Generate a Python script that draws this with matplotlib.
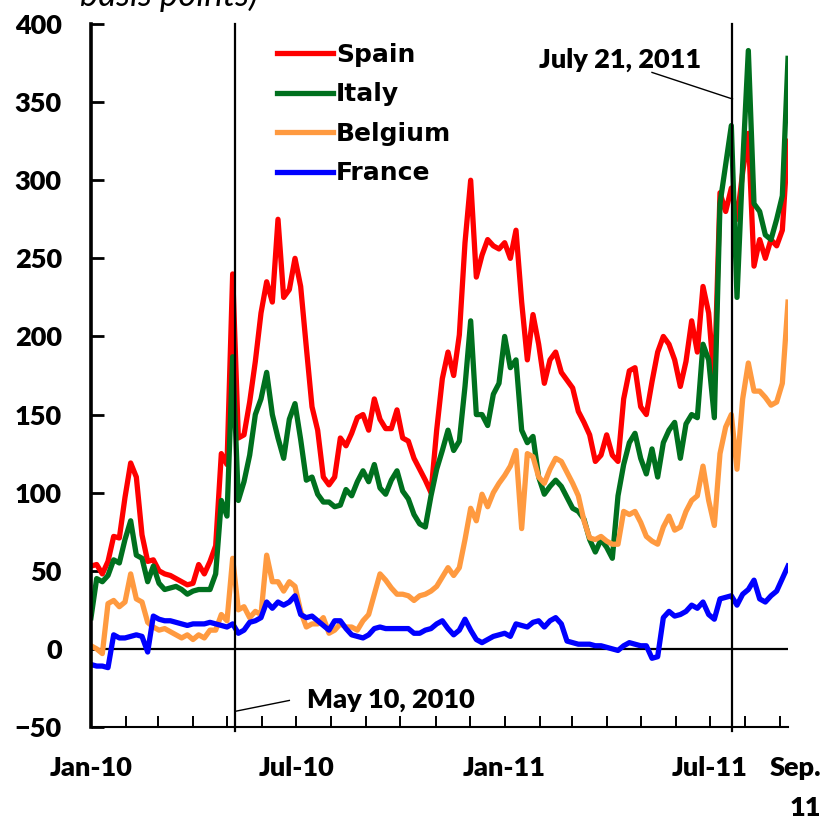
import pandas as pd
import matplotlib.pyplot as plt

# sample dates (every 5 days from Jan 1, 2010)
dates = pd.date_range('2010-01-01', periods=124, freq='5D')

spain = [53, 54, 48, 56, 72, 71, 97, 119, 110, 73,
         56, 57, 50, 48, 47, 45, 43, 41, 42, 54,
         48, 56, 66, 125, 118, 240, 135, 137, 158, 184,
         215, 235, 222, 275, 225, 230, 250, 232, 193, 155,
         140, 110, 105, 110, 135, 130, 138, 148, 150, 140,
         160, 147, 141, 141, 153, 135, 133, 122, 115, 108,
         100, 140, 173, 190, 175, 201, 260, 300, 238, 252,
         262, 258, 256, 260, 250, 268, 222, 185, 214, 195,
         170, 185, 190, 177, 172, 167, 152, 145, 137, 120,
         124, 137, 124, 120, 160, 178, 180, 155, 150, 171,
         190, 200, 195, 185, 168, 184, 210, 190, 232, 215,
         170, 292, 280, 295, 275, 305, 330, 245, 262, 250,
         262, 258, 268, 325]

italy = [20, 45, 43, 47, 57, 55, 70, 82, 60, 58,
         43, 53, 42, 38, 39, 40, 38, 35, 37, 38,
         38, 38, 48, 95, 85, 187, 95, 107, 124, 150,
         160, 177, 150, 135, 122, 147, 157, 134, 108, 110,
         99, 94, 94, 91, 92, 102, 98, 107, 114, 107,
         118, 103, 99, 108, 114, 101, 96, 86, 80, 78,
         98, 115, 127, 140, 127, 133, 168, 210, 150, 150,
         143, 163, 170, 200, 180, 185, 140, 132, 136, 110,
         99, 104, 108, 104, 97, 90, 88, 83, 70, 62,
         70, 65, 58, 98, 118, 132, 138, 122, 112, 128,
         110, 132, 140, 145, 122, 144, 150, 148, 195, 185,
         148, 285, 310, 335, 225, 310, 383, 285, 280, 265,
         262, 275, 290, 378]

belgium = [2, 0, -3, 29, 31, 27, 30, 48, 32, 30,
           17, 14, 12, 13, 11, 9, 7, 9, 6, 9,
           7, 12, 12, 22, 18, 58, 25, 27, 20, 24,
           22, 60, 43, 43, 37, 43, 40, 24, 14, 16,
           16, 20, 10, 12, 16, 14, 14, 12, 18, 22,
           35, 48, 44, 39, 35, 35, 34, 31, 34, 35,
           37, 40, 46, 52, 47, 52, 70, 90, 82, 99,
           91, 100, 106, 111, 117, 127, 77, 125, 123, 110,
           106, 115, 122, 120, 113, 106, 98, 82, 71, 70,
           72, 69, 67, 67, 88, 86, 88, 81, 72, 69,
           67, 78, 85, 76, 78, 88, 95, 98, 117, 95,
           79, 125, 142, 150, 115, 160, 183, 165, 165, 161,
           156, 158, 170, 222]

france = [-10, -11, -11, -12, 9, 7, 7, 8, 9, 8,
          -2, 21, 19, 18, 18, 17, 16, 15, 16, 16,
          16, 17, 16, 15, 14, 16, 10, 12, 17, 18,
          20, 30, 26, 30, 28, 30, 34, 22, 20, 21,
          18, 15, 12, 18, 18, 13, 9, 8, 7, 9,
          13, 14, 13, 13, 13, 13, 13, 10, 10, 12,
          13, 16, 18, 13, 9, 12, 19, 12, 6, 4,
          6, 8, 9, 10, 8, 16, 15, 14, 17, 18,
          14, 18, 20, 16, 5, 4, 3, 3, 3, 2,
          2, 1, 0, -1, 2, 4, 3, 2, 2, -6,
          -5, 20, 24, 21, 22, 24, 28, 26, 30, 22,
          19, 32, 33, 34, 28, 35, 38, 44, 32, 30,
          34, 37, 45, 53]

month_ticks = pd.date_range('2010-01-01', '2011-09-01', freq='MS')
month_labels = ['Jan-10', '', '', '', '', '', 'Jul-10', '', '', '', '', '',
                'Jan-11', '', '', '', '', '', 'Jul-11', '', '']

bold = {'family': 'Lato', 'weight': 'heavy', 'size': 19.5}

fig = plt.figure(figsize=(8.23, 8.19), dpi=100)
ax = fig.add_axes([91/823, 1 - 727/819, (788 - 91)/823, (727 - 24)/819])

ax.plot(dates, spain, color='#FF0000', lw=3.8, label='Spain')
ax.plot(dates, italy, color='#00701E', lw=3.8, label='Italy')
ax.plot(dates, belgium, color='#FF9A40', lw=3.8, label='Belgium')
ax.plot(dates, france, color='#0000FF', lw=3.8, label='France')

ax.axhline(0, color='black', lw=1.6, zorder=1)

# event lines
for d in ['2010-05-08', '2011-07-21']:
    ax.axvline(pd.Timestamp(d), ymin=-0.005, ymax=1, color='black', lw=1.6,
               clip_on=False, zorder=5)

ax.plot([pd.Timestamp('2010-05-08'), pd.Timestamp('2010-06-25')], [-40, -33],
        color='black', lw=1, clip_on=False)
ax.text(pd.Timestamp('2010-07-11'), -33, 'May 10, 2010', ha='left', va='center', **bold)
ax.plot([pd.Timestamp('2011-05-11'), pd.Timestamp('2011-07-21')], [369, 352],
        color='black', lw=1, clip_on=False)
ax.text(pd.Timestamp('2011-01-31'), 377, 'July 21, 2011', ha='left', va='center', **bold)

ax.set_xlim(dates[0], dates[-1])
ax.set_ylim(-50, 400)
ax.set_yticks(range(-50, 401, 50))
ax.set_xticks(month_ticks)
ax.set_xticklabels(month_labels)
for lab in ax.get_xticklabels() + ax.get_yticklabels():
    lab.set_fontfamily('Lato')
    lab.set_fontweight('heavy')
    lab.set_fontsize(19.5)

ax.tick_params(axis='y', direction='in', length=9, width=2, pad=21)
ax.tick_params(axis='x', direction='in', length=8, width=1.4, pad=21)
ax.spines['top'].set_visible(False)
ax.spines['right'].set_visible(False)
ax.spines['left'].set_linewidth(2.6)
ax.spines['bottom'].set_linewidth(1.5)

fig.text(821/823, 1 - 768/819, 'Sep.', ha='right', va='center', **bold)
fig.text(821/823, 1 - 808/819, '11', ha='right', va='center', **bold)
fig.text(80/823, 1 - 6/819, 'basis points)', ha='left', va='baseline',
         family='Lato', style='italic', fontsize=25)

ax.legend(loc='upper left', bbox_to_anchor=(277/823, 1 - 43/819),
          bbox_transform=fig.transFigure, frameon=False,
          prop={'family': 'DejaVu Sans', 'weight': 'bold', 'size': 18},
          handlelength=2.25, handletextpad=0.12, labelspacing=0.62,
          borderpad=0, borderaxespad=0)

fig.savefig('out.png', dpi=100)
